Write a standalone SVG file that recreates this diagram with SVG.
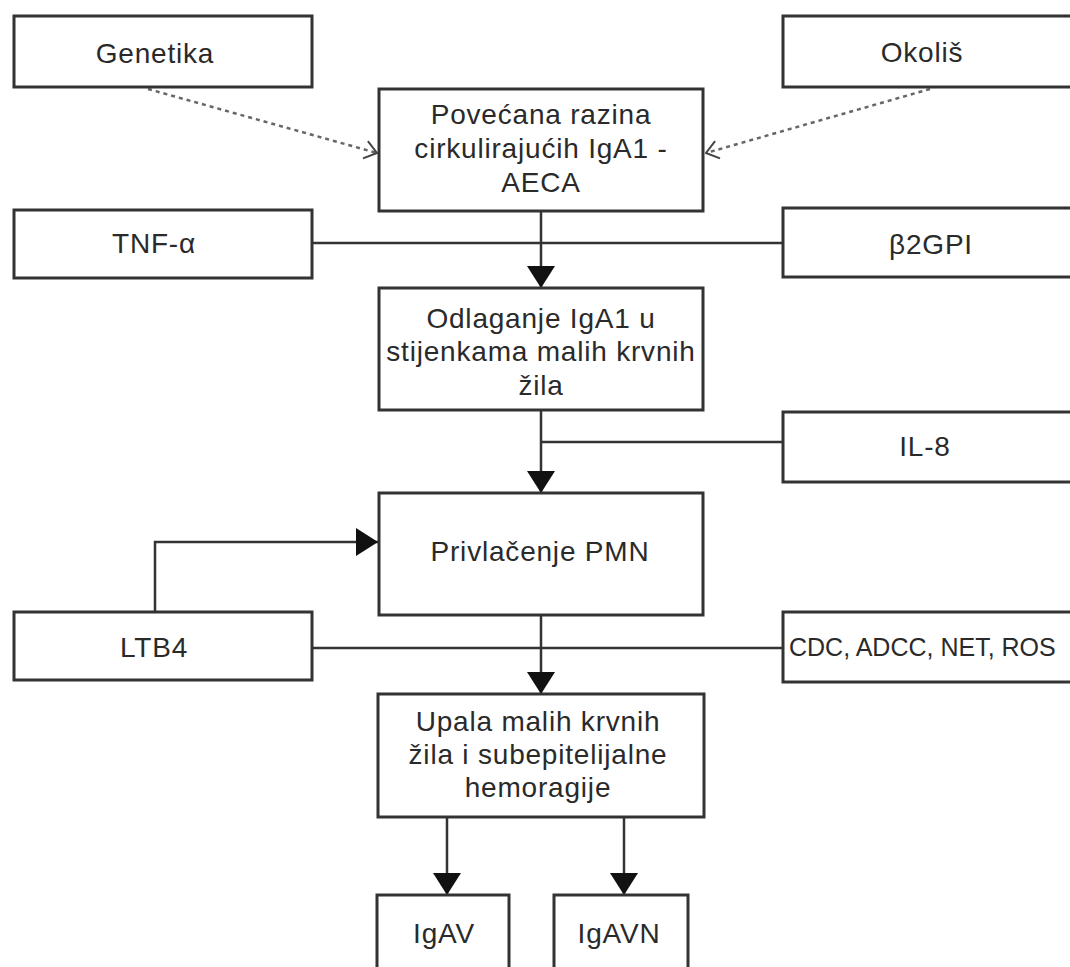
<svg xmlns="http://www.w3.org/2000/svg" width="1070" height="967" viewBox="0 0 1070 967">
<style>
.box{fill:#fff;stroke:#333;stroke-width:3}
.t{font-family:"Liberation Sans",Arial,sans-serif;font-size:28px;fill:#2a2a2a;text-anchor:middle;letter-spacing:0.8px}
.l{text-anchor:start;letter-spacing:0;font-size:25px}
.c{fill:none;stroke:#333;stroke-width:2.5}
.d{fill:none;stroke:#666;stroke-width:2.5;stroke-dasharray:4 4}
</style>
<defs>
<marker id="fa" markerUnits="userSpaceOnUse" viewBox="0 0 22 28" refX="22" refY="14" markerWidth="22" markerHeight="28" orient="auto">
<path d="M0,0 L22,14 L0,28 z" fill="#111"/>
</marker>
<marker id="oa" markerUnits="userSpaceOnUse" viewBox="0 0 14 20" refX="13" refY="10" markerWidth="14" markerHeight="20" orient="auto">
<path d="M1,1 L13,10 L1,19" fill="none" stroke="#444" stroke-width="2"/>
</marker>
</defs>
<rect width="1070" height="967" fill="#fff"/>
<g id="connectors">
<path class="d" d="M148,89 L377,153" marker-end="url(#oa)"/>
<path class="d" d="M930,89 L706,153" marker-end="url(#oa)"/>
<path class="c" d="M312,243 H783"/>
<path class="c" d="M541,211 V288" marker-end="url(#fa)"/>
<path class="c" d="M541,442 H783"/>
<path class="c" d="M541,410 V493" marker-end="url(#fa)"/>
<path class="c" d="M312,648 H783"/>
<path class="c" d="M541,615 V694" marker-end="url(#fa)"/>
<path class="c" d="M155,612 V542 H378" marker-end="url(#fa)"/>
<path class="c" d="M447,817 V895" marker-end="url(#fa)"/>
<path class="c" d="M624,817 V895" marker-end="url(#fa)"/>
</g>
<g id="genetika"><rect class="box" x="14" y="16" width="298" height="71"/><text class="t" x="155" y="63">Genetika</text></g>
<g id="okolis"><rect class="box" x="783" y="16" width="298" height="71"/><text class="t" x="922" y="62">Okoliš</text></g>
<g id="povecana"><rect class="box" x="379" y="89" width="324" height="122"/>
<text class="t" x="541" y="124">Povećana razina</text>
<text class="t" x="541" y="158">cirkulirajućih IgA1 -</text>
<text class="t" x="541" y="192">AECA</text></g>
<g id="tnf"><rect class="box" x="14" y="210" width="298" height="68"/><text class="t" x="154" y="253">TNF-α</text></g>
<g id="b2gpi"><rect class="box" x="783" y="208" width="298" height="69"/><text class="t" x="931" y="254">β2GPI</text></g>
<g id="odlaganje"><rect class="box" x="379" y="288" width="324" height="122"/>
<text class="t" x="541" y="328">Odlaganje IgA1 u</text>
<text class="t" x="541" y="361">stijenkama malih krvnih</text>
<text class="t" x="541" y="395">žila</text></g>
<g id="il8"><rect class="box" x="783" y="412" width="298" height="70"/><text class="t" x="925" y="456">IL-8</text></g>
<g id="privlacenje"><rect class="box" x="379" y="493" width="324" height="122"/>
<text class="t" x="540" y="561">Privlačenje PMN</text></g>
<g id="ltb4"><rect class="box" x="14" y="612" width="298" height="68"/><text class="t" x="154" y="657">LTB4</text></g>
<g id="cdc"><rect class="box" x="783" y="612" width="298" height="70"/><text class="t l" x="789" y="656">CDC, ADCC, NET, ROS</text></g>
<g id="upala"><rect class="box" x="378" y="694" width="326" height="123"/>
<text class="t" x="538" y="731">Upala malih krvnih</text>
<text class="t" x="538" y="764">žila i subepitelijalne</text>
<text class="t" x="538" y="797">hemoragije</text></g>
<g id="igav"><rect class="box" x="377" y="895" width="132" height="90"/><text class="t" x="444" y="943">IgAV</text></g>
<g id="igavn"><rect class="box" x="554" y="895" width="134" height="90"/><text class="t" x="619" y="943">IgAVN</text></g>
</svg>
